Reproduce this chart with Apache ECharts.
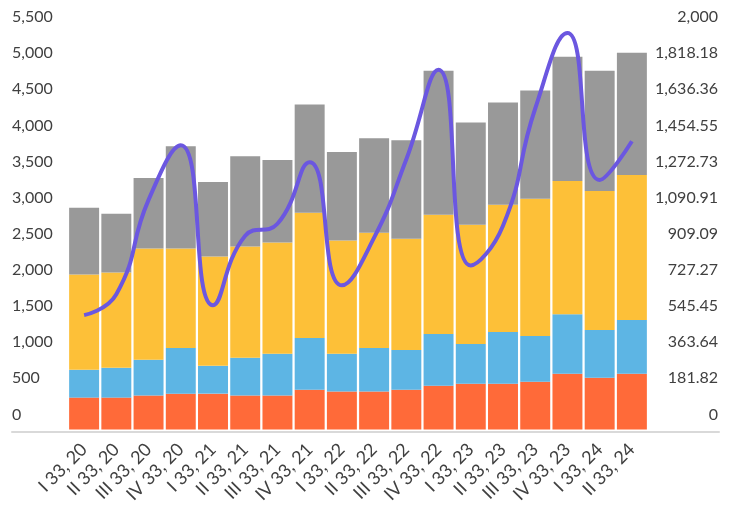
<!DOCTYPE html>
<html>
<head>
<meta charset="utf-8">
<script src="https://cdn.jsdelivr.net/npm/echarts@6/dist/echarts.min.js"></script>
<style>
  html, body { margin: 0; padding: 0; background: #fff; }
  #chart { width: 735px; height: 506px; }
</style>
</head>
<body>
<div id="chart"></div>
<script>
const categories = [
  'I 33, 20', 'II 33, 20', 'III 33, 20', 'IV 33, 20',
  'I 33, 21', 'II 33, 21', 'III 33, 21', 'IV 33, 21',
  'I 33, 22', 'II 33, 22', 'III 33, 22', 'IV 33, 22',
  'I 33, 23', 'II 33, 23', 'III 33, 23', 'IV 33, 23',
  'I 33, 24', 'II 33, 24'
]

const orangeValues = [440, 440, 468, 495, 495, 468, 468, 550, 523, 523, 550, 605, 633, 633, 660, 770, 715, 770]
const blueValues = [385, 413, 495, 633, 385, 523, 578, 715, 523, 605, 550, 715, 550, 715, 633, 825, 660, 743]
const yellowValues = [1320, 1320, 1540, 1375, 1513, 1540, 1540, 1733, 1568, 1595, 1540, 1650, 1650, 1760, 1898, 1843, 1925, 2008]
const grayValues = [921, 811, 976, 1416, 1031, 1251, 1141, 1499, 1224, 1306, 1361, 1994, 1416, 1416, 1499, 1719, 1664, 1691]
const lineValues = [575, 680, 1155, 1430, 625, 975, 1035, 1345, 725, 965, 1360, 1810, 825, 1025, 1615, 1995, 1255, 1450]

const leftMax = 5500
const leftInterval = 500
const rightMax = 2000
const rightInterval = 2000 / 11

const labelColor = '#404040'
const fontFamily = 'Lato'

const chart = echarts.init(document.getElementById('chart'))

const barSeries = (name, data, color) => ({
  name: name,
  type: 'bar',
  stack: 'total',
  data: data,
  barCategoryGap: '7%',
  itemStyle: { color: color },
  emphasis: { disabled: true }
})

const option = {
  animation: false,
  grid: [
    { left: 68, right: 87, top: 32, bottom: 74 },
    { left: 12, right: 16, top: 32, bottom: 74 }
  ],
  xAxis: [
    {
      type: 'category',
      data: categories,
      gridIndex: 0,
      axisLine: { show: false },
      axisTick: { show: false },
      axisLabel: {
        interval: 0,
        hideOverlap: false,
        rotate: 45,
        margin: 17,
        color: labelColor,
        fontSize: 18,
        fontFamily: fontFamily
      }
    },
    {
      type: 'value',
      gridIndex: 1,
      min: 0,
      max: 1,
      axisLine: { show: true, lineStyle: { color: '#d9d9d9', width: 2 } },
      axisTick: { show: false },
      axisLabel: { show: false },
      splitLine: { show: false }
    }
  ],
  yAxis: [
    {
      type: 'value',
      gridIndex: 0,
      min: 0,
      max: leftMax,
      interval: leftInterval,
      axisLine: { show: false },
      axisTick: { show: false },
      splitLine: { show: false },
      axisLabel: {
        align: 'left',
        verticalAlign: 'bottom',
        lineHeight: 30,
        margin: 56,
        color: labelColor,
        fontSize: 16,
        fontFamily: fontFamily,
        formatter: v => v.toLocaleString('en-US')
      }
    },
    {
      type: 'value',
      gridIndex: 0,
      position: 'right',
      min: 0,
      max: rightMax,
      interval: rightInterval,
      axisLine: { show: false },
      axisTick: { show: false },
      splitLine: { show: false },
      axisLabel: {
        align: 'right',
        verticalAlign: 'bottom',
        lineHeight: 30,
        margin: 70,
        color: labelColor,
        fontSize: 16,
        fontFamily: fontFamily,
        formatter: v => v.toLocaleString('en-US', { maximumFractionDigits: 2 })
      }
    },
    {
      type: 'value',
      gridIndex: 1,
      show: false
    }
  ],
  series: [
    barSeries('orange', orangeValues, '#FF6A39'),
    barSeries('blue', blueValues, '#5DB5E4'),
    barSeries('yellow', yellowValues, '#FDC038'),
    barSeries('gray', grayValues, '#999999'),
    {
      name: 'line',
      type: 'line',
      yAxisIndex: 1,
      data: lineValues,
      smooth: 0.5,
      showSymbol: false,
      lineStyle: { color: '#6B57E0', width: 4 },
      emphasis: { disabled: true },
      z: 5
    }
  ]
}

option && chart.setOption(option)
</script>
</body>
</html>
